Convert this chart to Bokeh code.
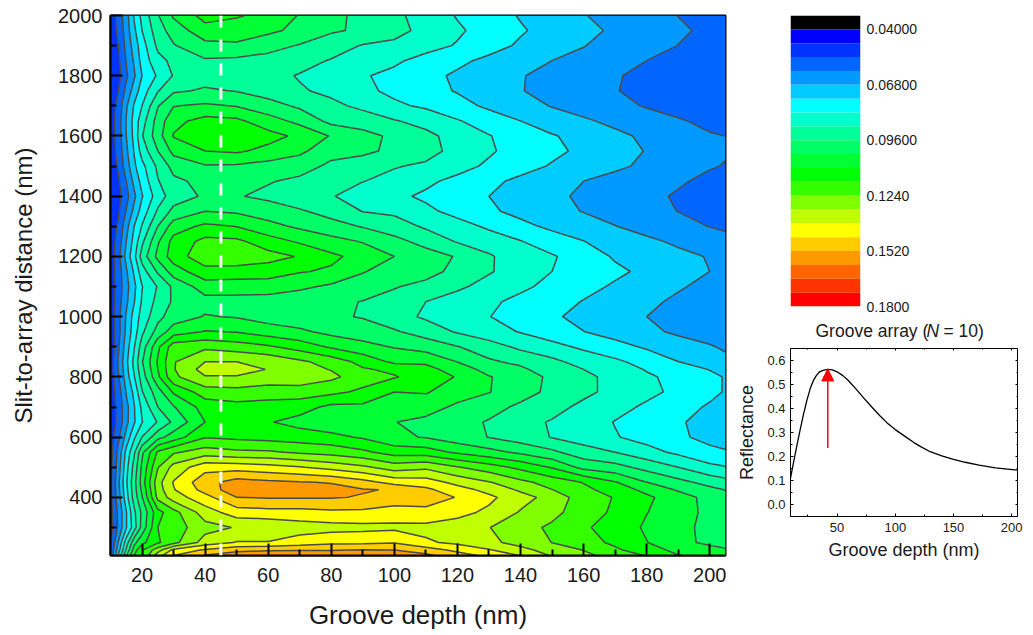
import numpy as np
from bokeh.plotting import figure
from bokeh.layouts import row, column
from bokeh.embed import file_html
from bokeh.resources import INLINE
from bokeh.core.properties import value
from bokeh.models import Range1d, FixedTicker, LinearAxis, Arrow, NormalHead, Span

FONT = "Liberation Sans"

# grid of the contour map: reflectance x 10000, one list per groove depth, one entry per distance
depths = [10, 12.5, 15, 17.5, 20, 25, 30, 40, 50, 60, 70, 80, 90, 100, 110, 120, 130, 140, 150, 160, 170, 180, 190, 200, 205]
distances = [207, 225, 250, 300, 350, 400, 425, 450, 500, 550, 600, 650, 700, 750, 800, 825, 850, 900, 950, 1000, 1050,
             1100, 1150, 1200, 1250, 1300, 1350, 1400, 1450, 1500, 1550, 1600, 1650, 1700, 1750, 1800, 1850, 1900, 1950, 2000]
z_10 = [550,540,530,510,515,520,520,520,520,510,505,500,500,500,500,500,495,485,490,490,495,500,500,500,500,500,495,490,495,500,500,500,500,500,495,490,495,500,500,500]
z_12 = [760,720,685,625,625,650,660,665,645,630,595,558,563,573,603,612,618,600,587,590,579,571,575,585,570,550,530,515,530,550,565,575,575,565,540,515,525,540,555,565]
z_15 = [960,900,855,745,745,790,800,810,795,770,705,660,657,686,715,725,732,715,696,688,666,655,670,705,680,655,615,585,610,645,665,680,685,670,630,597,615,630,645,650]
z_17 = [1100,1065,1010,858,875,920,930,935,915,880,808,742,745,768,815,830,840,815,787,778,746,733,760,800,775,750,700,665,700,737,755,770,775,757,710,670,690,710,735,758]
z_20 = [1165,1165,1080,985,975,1025,1045,1062,1045,1015,892,817,835,885,925,940,955,924,876,846,828,817,860,920,875,825,780,745,775,800,850,885,860,820,785,750,775,790,820,840]
z_25 = [1350,1280,1160,1170,1145,1260,1275,1285,1235,1180,1006,895,960,1000,1085,1100,1108,1085,988,939,913,895,970,1050,1020,960,900,855,885,905,960,1000,990,955,885,830,870,905,930,955]
z_30 = [1450,1400,1218,1205,1215,1345,1375,1385,1335,1230,1063,975,1025,1110,1225,1235,1235,1210,1065,995,970,975,1065,1135,1125,1065,980,925,945,985,1050,1105,1080,1027,950,895,905,955,990,1040]
z_40 = [1525,1460,1340,1285,1345,1425,1475,1495,1425,1275,1165,1100,1130,1205,1305,1340,1310,1225,1105,1035,1005,1065,1145,1215,1190,1115,1030,970,980,1024,1100,1155,1125,1041,968,935,952,1009,1074,1125]
z_50 = [1555,1505,1385,1315,1415,1520,1565,1550,1420,1255,1155,1125,1145,1215,1305,1340,1310,1205,1097,1025,1000,1068,1135,1225,1185,1098,1020,965,985,1020,1110,1165,1115,1026,957,925,945,1016,1075,1105]
z_60 = [1560,1515,1385,1320,1425,1525,1570,1535,1405,1250,1145,1105,1135,1210,1275,1307,1295,1180,1065,1000,1000,1063,1135,1195,1132,1052,995,945,965,1005,1080,1125,1060,988,928,912,935,985,1045,1085]
z_70 = [1565,1515,1415,1345,1425,1525,1565,1525,1385,1230,1135,1075,1130,1205,1285,1262,1255,1139,1044,985,985,1045,1105,1165,1090,1017,968,918,945,990,1045,1085,1010,948,897,885,915,955,1012,1025]
z_80 = [1570,1515,1435,1355,1435,1525,1545,1515,1355,1215,1120,1052,1082,1188,1255,1237,1210,1090,1010,972,972,1018,1090,1115,1055,985,935,895,915,945,985,1025,940,906,875,845,885,925,968,975]
z_90 = [1575,1525,1435,1360,1435,1515,1525,1476,1325,1185,1092,1042,1085,1155,1205,1177,1148,1052,995,955,958,990,1035,1075,1025,955,888,855,892,925,975,985,925,875,835,825,855,885,950,945]
z_100 = [1565,1520,1445,1365,1415,1495,1515,1425,1275,1140,1045,1032,1051,1100,1175,1156,1085,1025,968,918,935,965,995,1030,980,925,875,835,868,895,945,945,895,832,805,805,830,875,912,905]
z_110 = [1535,1486,1390,1360,1432,1480,1465,1415,1295,1134,1025,1009,1065,1105,1140,1125,1086,1000,930,879,890,940,985,989,937,879,835,808,835,879,915,908,866,809,774,770,799,842,870,862]
z_120 = [1484,1431,1365,1345,1402,1447,1411,1358,1245,1088,991,981,1014,1069,1095,1066,1029,963,883,850,861,902,940,955,884,845,799,779,800,847,867,863,825,775,745,739,765,815,830,815]
z_130 = [1430,1386,1327,1312,1365,1396,1357,1315,1202,1053,958,955,982,1033,1034,1006,971,921,848,822,832,867,896,899,854,809,761,750,766,807,830,823,788,737,712,711,734,776,793,780]
z_140 = [1378,1334,1285,1269,1304,1336,1300,1258,1152,1016,924,909,948,985,996,975,943,875,816,788,803,833,858,848,823,768,731,722,735,775,788,790,750,703,683,684,707,740,757,745]
z_150 = [1303,1277,1239,1226,1263,1285,1242,1212,1094,975,887,885,911,945,945,917,908,841,784,759,775,802,820,827,782,736,703,694,707,744,766,756,711,677,659,660,680,709,726,714]
z_160 = [1257,1238,1202,1181,1198,1203,1190,1166,1008,920,857,855,875,905,908,890,863,807,751,732,747,771,791,787,752,709,677,669,680,718,735,725,689,653,636,637,656,683,697,683]
z_170 = [1212,1184,1154,1136,1160,1166,1136,1105,985,890,825,817,842,871,867,858,834,773,724,707,709,741,764,742,705,682,654,647,659,692,705,695,664,629,612,614,633,648,670,658]
z_180 = [1166,1126,1102,1091,1102,1112,1083,1031,936,846,794,789,809,837,831,815,794,741,696,680,694,714,735,729,696,651,629,625,652,668,677,668,640,605,597,598,610,637,645,637]
z_190 = [1102,1085,1050,1046,1061,1065,1022,982,890,805,760,758,775,805,799,789,751,713,668,655,668,687,706,700,666,636,609,603,618,642,650,644,616,588,575,575,592,609,620,609]
z_200 = [1085,1055,1015,1015,1012,1005,979,935,838,765,733,725,742,767,768,747,715,685,655,622,645,662,680,675,645,608,585,575,595,615,625,615,595,565,555,555,575,585,597,592]
z_205 = [1065,1035,1015,997,995,975,958,915,825,755,727,712,725,745,745,733,695,672,635,615,632,645,665,655,632,598,573,565,580,607,615,610,580,555,545,545,565,575,585,580]

# colour scale: band edges x 10000 (top of the bar first) and their colours
band_edges = [330, 400, 470, 540, 610, 680, 750, 820, 890, 960, 1030, 1100, 1170, 1240, 1310, 1380, 1450, 1520, 1590, 1660, 1730, 1800]
band_colors = ["#000000", "#0000ff", "#0033ff", "#0066ff", "#0099ff", "#00ccff", "#00ffff", "#00ffcc", "#00ff99", "#00ff66",
               "#00ff33", "#00ff00", "#33ff00", "#7fff00", "#bfff00", "#ffff00", "#ffcc00", "#ff9900", "#ff6600", "#ff3300", "#ff0000"]
scale_ticks = [0.04, 0.068, 0.096, 0.124, 0.152, 0.18]
scale_labels = ["0.04000", "0.06800", "0.09600", "0.1240", "0.1520", "0.1800"]

# inset curve
inset_x = [10, 12, 14, 16, 18, 21, 24, 27, 29.5, 32, 35, 38, 42, 46, 50, 55, 59, 66, 73, 80, 87, 93, 100, 108, 116, 123, 130, 140, 150, 160, 172, 186, 205]
inset_y = [0.11, 0.16, 0.21, 0.258, 0.305, 0.372, 0.433, 0.484, 0.515, 0.536, 0.553, 0.559, 0.563, 0.561, 0.553, 0.537, 0.52, 0.483, 0.443, 0.405, 0.369, 0.34, 0.312, 0.285, 0.258, 0.238, 0.22, 0.203, 0.188, 0.176, 0.164, 0.153, 0.143]
inset_yticks = [0, 0.1, 0.2, 0.3, 0.4, 0.5, 0.6]
inset_ylabels = ["0.0", "0.1", "0.2", "0.3", "0.4", "0.5", "0.6"]
inset_xticks = [50, 100, 150, 200]
arrow_x = 42
arrow_from = 0.235
arrow_to = 0.565
marker_depth = 45

columns = [z_10, z_12, z_15, z_17, z_20, z_25, z_30, z_40, z_50, z_60, z_70, z_80, z_90, z_100, z_110, z_120, z_130, z_140, z_150, z_160, z_170, z_180, z_190, z_200, z_205]
Z = np.column_stack(columns) / 10000.0
edges = np.array(band_edges) / 10000.0


def style(ax, size, maj, mnr, width):
    ax.major_label_text_font = FONT
    ax.major_label_text_font_size = size
    ax.major_label_text_color = "#1a1a1a"
    ax.axis_label_text_font = FONT
    ax.axis_label_text_font_style = "normal"
    ax.axis_label_text_color = "#1a1a1a"
    ax.major_tick_in = maj
    ax.major_tick_out = 0
    ax.minor_tick_in = mnr
    ax.minor_tick_out = 0
    ax.major_tick_line_color = "black"
    ax.minor_tick_line_color = "black"
    ax.major_tick_line_width = width
    ax.minor_tick_line_width = width
    ax.axis_line_color = "black"
    ax.axis_line_width = width


# main map
p = figure(frame_width=615, frame_height=540, x_range=Range1d(10, 205), y_range=Range1d(207, 2000),
           output_backend="svg", toolbar_location=None, min_border_left=110, min_border_right=5,
           min_border_top=15, min_border_bottom=72)
p.grid.visible = False
p.outline_line_color = "black"
p.outline_line_width = 2
p.contour(depths, distances, Z, list(edges[2:]), fill_color=band_colors[2:], line_color="#4a4a4a", line_width=1.5)
p.add_layout(Span(location=marker_depth, dimension="height", line_color="white", line_width=3, line_dash="12 12"))
style(p.xaxis[0], "20px", 12, 6, 2)
style(p.yaxis[0], "20px", 12, 6, 2)
p.xaxis[0].ticker = FixedTicker(ticks=list(range(20, 201, 20)), minor_ticks=list(range(30, 201, 20)))
p.yaxis[0].ticker = FixedTicker(ticks=list(range(400, 2001, 200)), minor_ticks=list(range(300, 2000, 200)))
p.xaxis[0].axis_label = "Groove depth (nm)"
p.yaxis[0].axis_label = "Slit-to-array distance (nm)"
p.xaxis[0].axis_label_text_font_size = "26px"
p.yaxis[0].axis_label_text_font_size = "24px"
p.xaxis[0].major_label_standoff = 12
p.xaxis[0].axis_label_standoff = 15
p.yaxis[0].major_label_standoff = 8
p.yaxis[0].axis_label_standoff = 18

# colour bar
cb = figure(frame_width=70, frame_height=291, x_range=Range1d(0, 1), y_range=Range1d(edges[-1], edges[0]),
            output_backend="svg", toolbar_location=None, min_border_left=59, min_border_right=166,
            min_border_top=15, min_border_bottom=10, x_axis_location=None, y_axis_location="right")
cb.grid.visible = False
cb.outline_line_color = None
cb.quad(left=0, right=1, top=edges[:-1], bottom=edges[1:], fill_color=band_colors, line_color=None)
ya = cb.yaxis[0]
ya.ticker = FixedTicker(ticks=scale_ticks)
ya.major_label_overrides = dict(zip(scale_ticks, scale_labels))
ya.major_label_text_font = FONT
ya.major_label_text_font_size = "14px"
ya.major_label_text_color = "#1a1a1a"
ya.major_tick_line_color = None
ya.minor_tick_line_color = None
ya.axis_line_color = None
ya.major_label_standoff = 0

# inset title, in a strip of its own whose frame lines up with the inset's
t = figure(frame_width=227, frame_height=26, x_range=Range1d(0, 227), y_range=Range1d(0, 26), output_backend="svg",
           toolbar_location=None, min_border_left=60, min_border_right=8, min_border_top=0, min_border_bottom=0,
           x_axis_location=None, y_axis_location=None)
t.grid.visible = False
t.outline_line_color = None
for txt, xd, st in (("Groove array (", 25, "normal"), ("N", 136, "italic"), ("= 10)", 153, "normal")):
    t.text(x=[xd], y=[12], text=[txt], text_font=value(FONT), text_font_size="17.5px", text_font_style=st,
           text_color="#1a1a1a", text_baseline="middle")

# inset
q = figure(frame_width=227, frame_height=168, x_range=Range1d(10, 205), y_range=Range1d(-0.05, 0.65),
           output_backend="svg", toolbar_location=None, min_border_left=60, min_border_right=8,
           min_border_top=6, min_border_bottom=111)
q.grid.visible = False
q.outline_line_color = "black"
q.outline_line_width = 1
q.line(inset_x, inset_y, line_color="black", line_width=1.3)
q.add_layout(Arrow(end=NormalHead(size=12, fill_color="red", line_color="red"), x_start=arrow_x, y_start=arrow_from,
                   x_end=arrow_x, y_end=arrow_to, line_color="red", line_width=1.5))
style(q.xaxis[0], "13px", 3, 2, 1)
style(q.yaxis[0], "13px", 3, 2, 1)
q.xaxis[0].ticker = FixedTicker(ticks=inset_xticks, minor_ticks=[25, 75, 125, 175])
q.yaxis[0].ticker = FixedTicker(ticks=inset_yticks, minor_ticks=[0.05, 0.15, 0.25, 0.35, 0.45, 0.55])
q.yaxis[0].major_label_overrides = dict(zip(inset_yticks, inset_ylabels))
q.xaxis[0].axis_label = "Groove depth (nm)"
q.yaxis[0].axis_label = "Reflectance"
q.xaxis[0].axis_label_text_font_size = "18px"
q.yaxis[0].axis_label_text_font_size = "18px"
q.xaxis[0].major_label_standoff = 6
q.xaxis[0].axis_label_standoff = 5
q.yaxis[0].major_label_standoff = 5
q.yaxis[0].axis_label_standoff = 7
for loc, ticks, minors in (("right", inset_yticks, [0.05, 0.15, 0.25, 0.35, 0.45, 0.55]), ("above", inset_xticks, [25, 75, 125, 175])):
    ax = LinearAxis(major_tick_in=2, major_tick_out=0, minor_tick_in=1, minor_tick_out=0, major_label_standoff=0,
                    axis_line_color=None, ticker=FixedTicker(ticks=ticks, minor_ticks=minors),
                    major_label_overrides={v: "" for v in ticks})
    q.add_layout(ax, loc)

out = row(p, column(cb, t, q, spacing=0), spacing=0)
open("out.html", "w").write(file_html(out, INLINE))
